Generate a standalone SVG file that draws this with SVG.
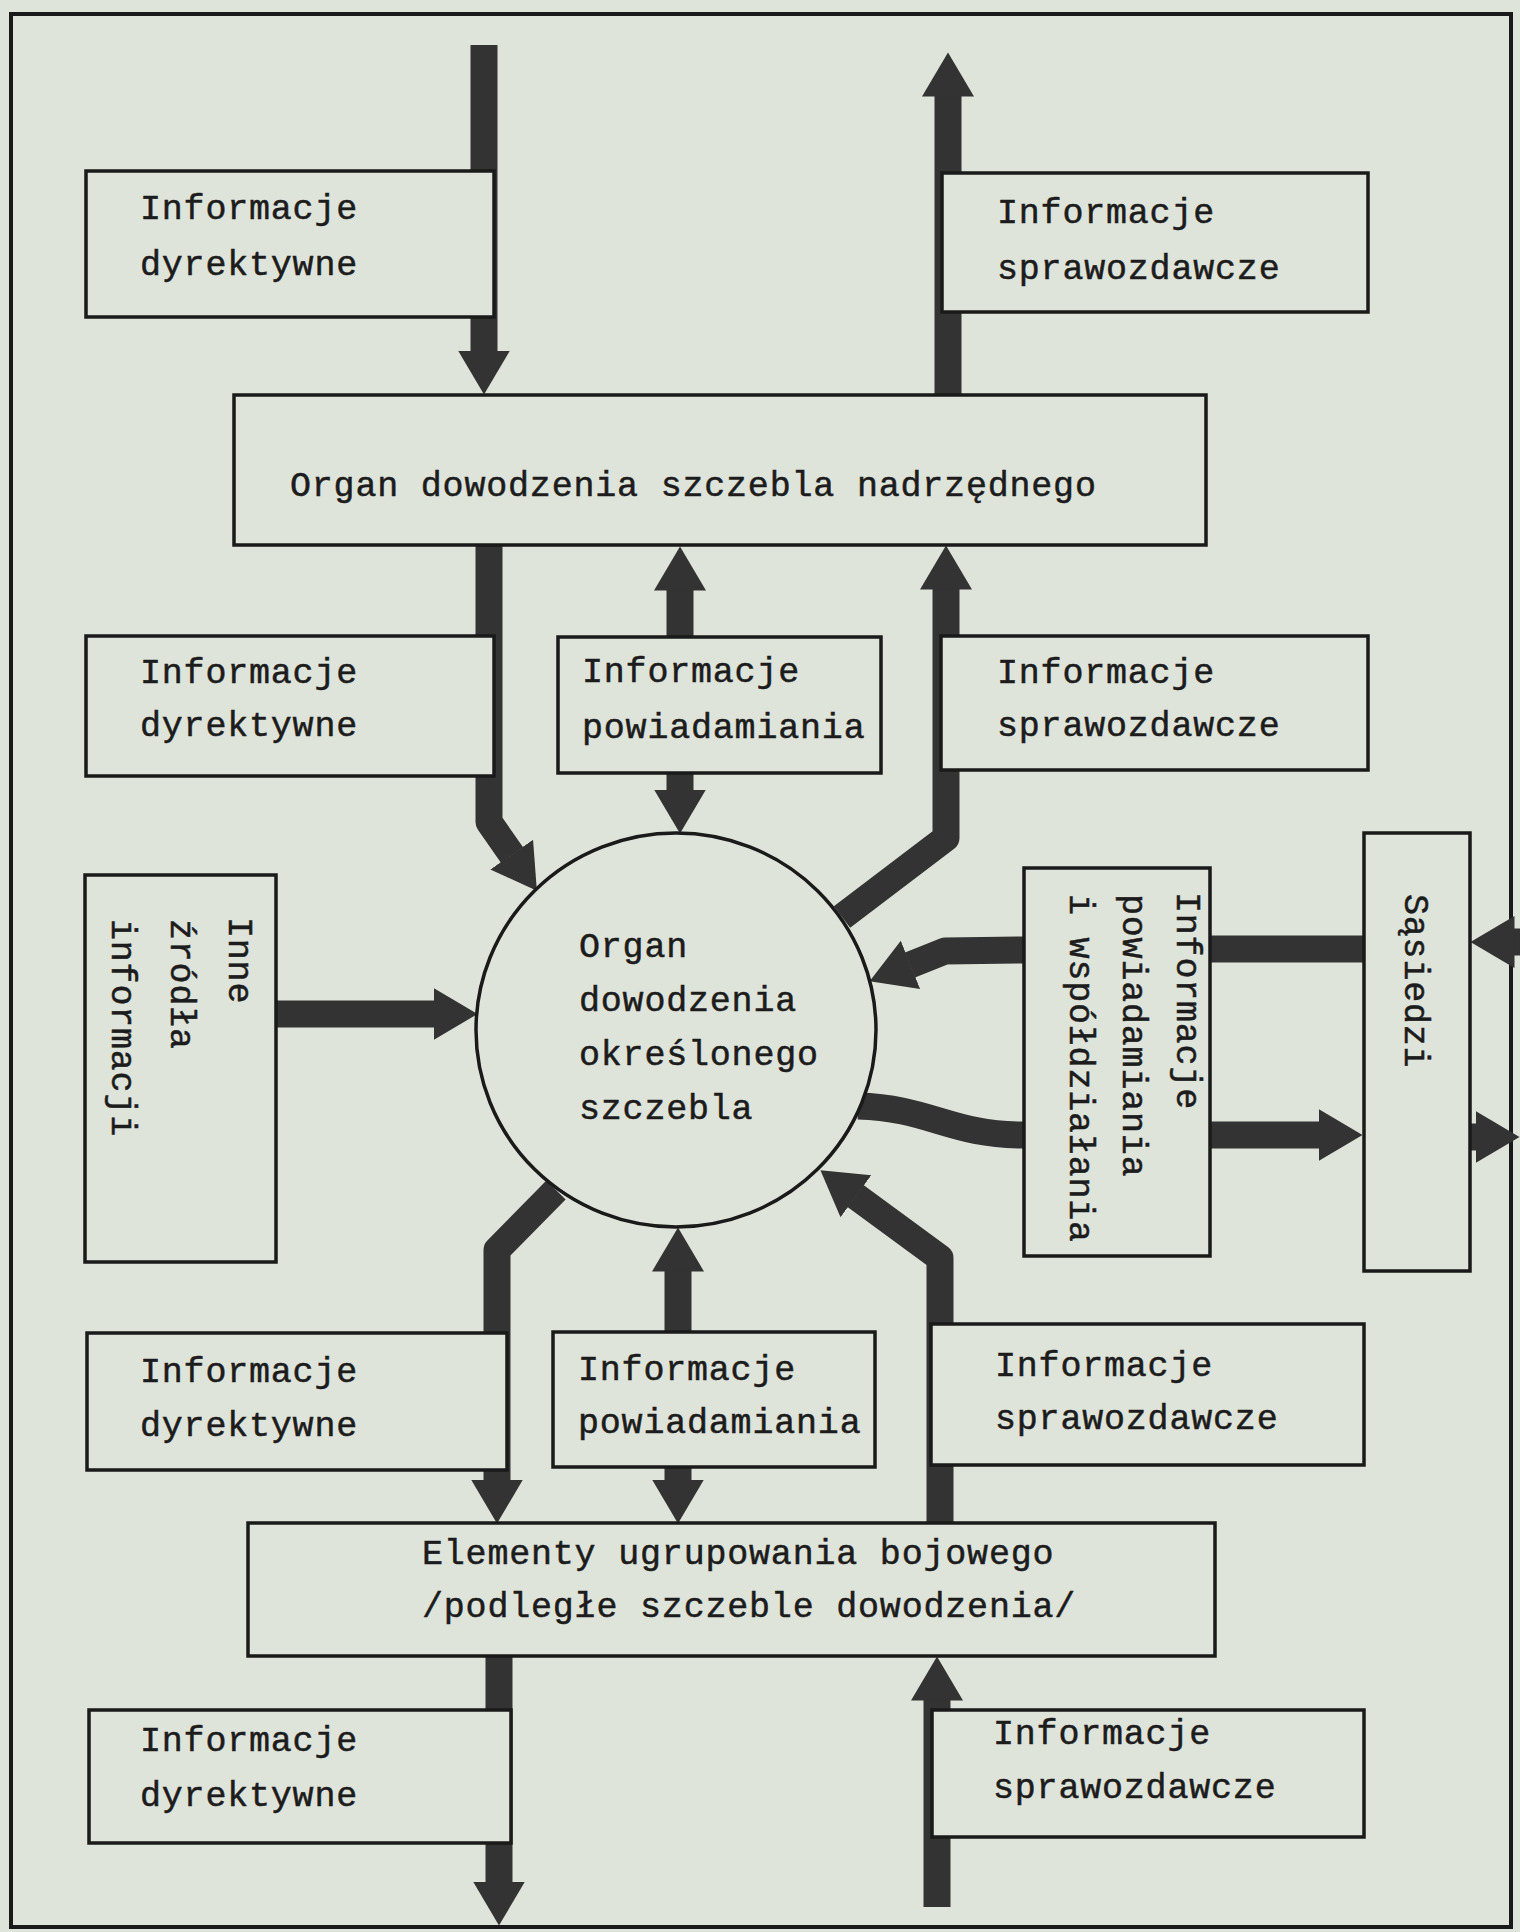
<svg xmlns="http://www.w3.org/2000/svg" width="1520" height="1932" viewBox="0 0 1520 1932">
<defs>
<style>
.t{font-family:"Liberation Mono","DejaVu Sans Mono",monospace;font-size:35px;letter-spacing:0.8px;fill:#1c1c1c;stroke:#1c1c1c;stroke-width:0.5}
.box{fill:#dfe4db;stroke:#1a1a1a;stroke-width:3.5}
.sh{fill:none;stroke:#333;stroke-width:27;stroke-linejoin:round;marker-end:url(#ah)}
.bar{fill:none;stroke:#333;stroke-width:27}
</style>
<marker id="ah" markerUnits="userSpaceOnUse" viewBox="0 -27 46 54" markerWidth="46" markerHeight="54" refX="0.5" refY="0" orient="auto">
<path d="M0,-26 L44,0 L0,26 Z" fill="#333"/>
</marker>
</defs>
<rect x="0" y="0" width="1520" height="1932" fill="#dfe4db"/>
<rect id="frame" x="11" y="14" width="1500" height="1913" fill="none" stroke="#1a1a1a" stroke-width="4"/>

<g id="connectors">
<path class="sh" d="M484,45 V351"/>
<path class="sh" d="M948,398 V96"/>
<path class="sh" d="M680,637 V590"/>
<path class="sh" d="M680,773 V790"/>
<path class="sh" d="M489,545 V822 L512,855"/>
<path class="sh" d="M842,917 L946,838 V589"/>
<path class="sh" d="M276,1014 H434"/>
<path class="sh" d="M1024,950 L945,951 L910,965"/>
<path class="bar" d="M1210,949 H1364"/>
<path class="sh" d="M1530,942 H1514"/>
<path class="bar" d="M858,1106 C930,1108 950,1135 1024,1135"/>
<path class="sh" d="M1210,1135 H1319"/>
<path class="sh" d="M1468,1137 H1476"/>
<path class="sh" d="M556,1190 L497,1250 V1480"/>
<path class="sh" d="M678,1332 V1271"/>
<path class="sh" d="M678,1467 V1480"/>
<path class="sh" d="M940,1524 V1258 L855.5,1196"/>
<path class="sh" d="M937,1907 V1700"/>
<path class="sh" d="M499,1656 V1882"/>
</g>

<g id="n-dyr1"><rect class="box" x="86" y="171" width="408" height="146"/>
<text class="t" x="140" y="219">Informacje</text><text class="t" x="140" y="275">dyrektywne</text></g>

<g id="n-spr1"><rect class="box" x="942" y="173" width="426" height="139"/>
<text class="t" x="997" y="223">Informacje</text><text class="t" x="997" y="279">sprawozdawcze</text></g>

<g id="n-organ-nadrz"><rect class="box" x="234" y="395" width="972" height="150"/>
<text class="t" x="290" y="496">Organ dowodzenia szczebla nadrzędnego</text></g>

<g id="n-dyr2"><rect class="box" x="86" y="636" width="408" height="140"/>
<text class="t" x="140" y="683">Informacje</text><text class="t" x="140" y="736">dyrektywne</text></g>

<g id="n-pow1"><rect class="box" x="558" y="637" width="323" height="136"/>
<text class="t" x="582" y="682">Informacje</text><text class="t" x="582" y="738">powiadamiania</text></g>

<g id="n-spr2"><rect class="box" x="941" y="636" width="427" height="134"/>
<text class="t" x="997" y="683">Informacje</text><text class="t" x="997" y="736">sprawozdawcze</text></g>

<g id="n-organ"><ellipse class="box" cx="676" cy="1030" rx="200" ry="197"/>
<text class="t" x="579" y="957">Organ</text>
<text class="t" x="579" y="1011">dowodzenia</text>
<text class="t" x="579" y="1065">określonego</text>
<text class="t" x="579" y="1119">szczebla</text></g>

<g id="n-inne"><rect class="box" x="85" y="875" width="191" height="387"/>
<text class="t" transform="translate(229,917) rotate(90)">Inne</text>
<text class="t" transform="translate(171,919) rotate(90)">źródła</text>
<text class="t" transform="translate(112,919) rotate(90)">informacji</text></g>

<g id="n-powwsp"><rect class="box" x="1024" y="868" width="186" height="388"/>
<text class="t" transform="translate(1177,892) rotate(90)">Informacje</text>
<text class="t" transform="translate(1123,894) rotate(90)">powiadamiania</text>
<text class="t" transform="translate(1070,894) rotate(90)">i współdziałania</text></g>

<g id="n-sasiedzi"><rect class="box" x="1364" y="833" width="106" height="438"/>
<text class="t" transform="translate(1405,894) rotate(90)">Sąsiedzi</text></g>

<g id="n-dyr3"><rect class="box" x="87" y="1333" width="420" height="137"/>
<text class="t" x="140" y="1382">Informacje</text><text class="t" x="140" y="1436">dyrektywne</text></g>

<g id="n-pow2"><rect class="box" x="553" y="1332" width="322" height="135"/>
<text class="t" x="578" y="1380">Informacje</text><text class="t" x="578" y="1433">powiadamiania</text></g>

<g id="n-spr3"><rect class="box" x="931" y="1324" width="433" height="141"/>
<text class="t" x="995" y="1376">Informacje</text><text class="t" x="995" y="1429">sprawozdawcze</text></g>

<g id="n-elementy"><rect class="box" x="248" y="1523" width="967" height="133"/>
<text class="t" x="422" y="1564">Elementy ugrupowania bojowego</text>
<text class="t" x="422" y="1617">/podległe szczeble dowodzenia/</text></g>

<g id="n-dyr4"><rect class="box" x="89" y="1710" width="422" height="133"/>
<text class="t" x="140" y="1751">Informacje</text><text class="t" x="140" y="1806">dyrektywne</text></g>

<g id="n-spr4"><rect class="box" x="932" y="1710" width="432" height="127"/>
<text class="t" x="993" y="1744">Informacje</text><text class="t" x="993" y="1798">sprawozdawcze</text></g>
</svg>
